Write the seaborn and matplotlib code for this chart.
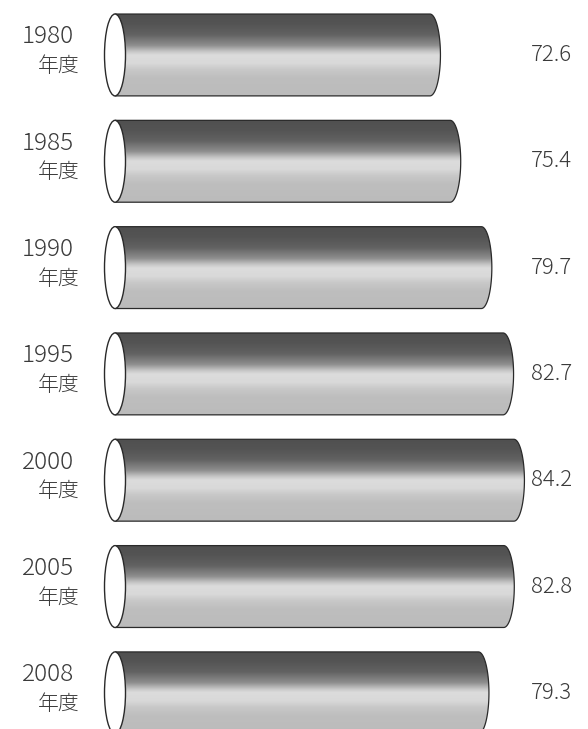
import numpy as np
import pandas as pd
import matplotlib
matplotlib.use("Agg")
import matplotlib.pyplot as plt
import seaborn as sns
from matplotlib.path import Path
from matplotlib.patches import PathPatch, Ellipse
from matplotlib.colors import LinearSegmentedColormap
import matplotlib.transforms as mtransforms

# Data
years = ["1980", "1985", "1990", "1995", "2000", "2005", "2008"]
year_suffix = "年度"
values = [72.6, 75.4, 79.7, 82.7, 84.2, 82.8, 79.3]

sns.set_theme(style="white")
plt.rcParams["font.family"] = ["Noto Sans CJK JP", "DejaVu Sans"]

df = pd.DataFrame({"year": years, "value": values})

fig = plt.figure(figsize=(5.88, 7.29), dpi=100)
ax = fig.add_axes([0, 0, 1, 1])

sns.barplot(data=df, x="value", y="year", orient="h", width=0.77,
            color="white", errorbar=None, ax=ax)

# Axis starts part-way; the cylinder's open end sits at this value
base = 29.1
px_per_unit = 7.24
x_left = base - 115 / px_per_unit
x_right = base + (588 - 115) / px_per_unit
cap_w = 10.5 / px_per_unit  # half-width of the elliptical ends

# Vertical shading of the tube body
stops = [(0.00, 80), (0.12, 84), (0.25, 98), (0.38, 142), (0.46, 200),
         (0.50, 220), (0.60, 217), (0.68, 200), (0.78, 190), (1.00, 187)]
tube_cmap = LinearSegmentedColormap.from_list(
    "tube", [(p, (g / 255, g / 255, g / 255)) for p, g in stops])
grad = np.linspace(0, 1, 256).reshape(-1, 1)

edge_col = "#2a2a2a"
text_col = "#3a3a3a"
blend = mtransforms.blended_transform_factory(ax.transAxes, ax.transData)

bars = list(ax.patches)
for patch, val, yr in zip(bars, values, years):
    patch.set_visible(False)
    top = patch.get_y()
    h = patch.get_height()
    bot = top + h
    yc = top + h / 2
    end = patch.get_width()

    # Body outline: top edge, rounded right end, bottom edge
    t = np.linspace(-np.pi / 2, np.pi / 2, 60)
    arc_x = end + cap_w * np.cos(t)
    arc_y = yc + (h / 2) * np.sin(t)
    verts = [(base, top)] + list(zip(arc_x, arc_y)) + [(base, bot), (base, top)]
    codes = [Path.MOVETO] + [Path.LINETO] * (len(verts) - 2) + [Path.CLOSEPOLY]
    body = PathPatch(Path(verts, codes), facecolor="none", edgecolor=edge_col,
                     lw=0.9, zorder=3)
    ax.add_patch(body)

    img = ax.imshow(grad, cmap=tube_cmap, vmin=0, vmax=1, aspect="auto",
                    extent=[base, end + cap_w, bot, top], origin="upper",
                    interpolation="bilinear", zorder=2)
    img.set_clip_path(body)

    # Open end of the tube
    ax.add_patch(Ellipse((base, yc), 2 * cap_w, h, facecolor="white",
                         edgecolor=edge_col, lw=1.0, zorder=4))

    # Category labels
    ax.text(74 / 588, yc - 0.17, yr, transform=blend, ha="right", va="center",
            fontsize=17.5, fontweight="light", color=text_col)
    ax.text(80 / 588, yc + 0.105, year_suffix, transform=blend, ha="right",
            va="center", fontsize=15, fontweight="light", color=text_col)

    # Value labels
    ax.text(531 / 588, yc, f"{val:.1f}", transform=blend, ha="left",
            va="center", fontsize=16, fontweight="light", color=text_col)

ax.set_xlim(x_left, x_right)
ax.set_ylim(6.34, -0.517)
ax.set_axis_off()

fig.savefig("out.png", dpi=100, facecolor="white")
